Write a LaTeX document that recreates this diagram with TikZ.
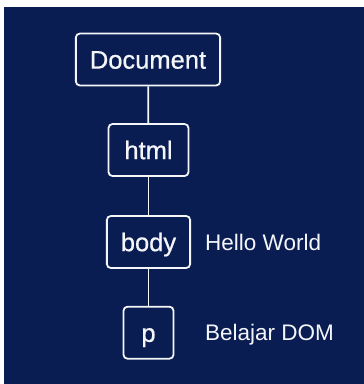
\documentclass[tikz,border=0pt]{standalone}
\usepackage{fontspec}
\setmainfont{Liberation Sans}
\newfontfamily\boxfont[FakeBold=0.7]{Liberation Sans}
\definecolor{navy}{RGB}{9,29,82}
\definecolor{offwhite}{RGB}{244,246,250}
\begin{document}
\begin{tikzpicture}[x=1pt,y=1pt,
    box/.style={draw=offwhite,line width=1.8pt,rounded corners=4pt,fill=navy,text=offwhite,
      font=\boxfont\fontsize{25.5}{28}\selectfont,minimum height=52pt,minimum width=50pt,
      inner xsep=14pt,text height=18.3pt,text depth=0pt},
    wide/.style={box,minimum width=80pt},
    side/.style={text=offwhite,font=\fontsize{22.5}{26}\selectfont,anchor=west,inner sep=0pt,
      text height=16.1pt,text depth=0pt},
    link/.style={draw=offwhite,line width=1.8pt}]
    \useasboundingbox (0,0) rectangle (364,-384);
    \fill[white] (0,0) rectangle (364,-384);
    \fill[navy] (4,-7) rectangle (364,-384);
    \node[box] (document) at (148,-59.5) {Document};
    \node[wide] (html) at (148.5,-150) {html};
    \node[wide] (body) at (148.5,-242) {body};
    \node[box] (p) at (148.5,-332.7) {p};
    \draw[link] (document) -- (html);
    \draw[link] (html) -- (body);
    \draw[link] (body) -- (p);
    \node[side] (hello) at (205,-242.5) {Hello World};
    \node[side] (belajar) at (205,-332) {Belajar DOM};
\end{tikzpicture}
\end{document}
